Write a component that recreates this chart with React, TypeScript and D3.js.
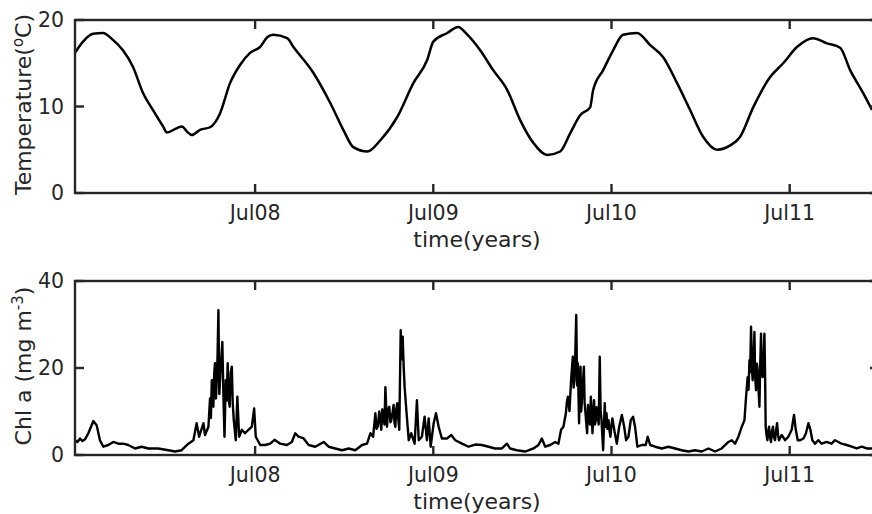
import React from "react";
import * as d3 from "d3";

// Sea temperature (°C), time in decimal years
const tempYears = [
  2007.488, 2007.533, 2007.589, 2007.645, 2007.701, 2007.757, 2007.813, 2007.869, 2007.925, 2007.982,
  2008.004, 2008.06, 2008.088, 2008.116, 2008.144, 2008.189, 2008.245, 2008.301, 2008.357, 2008.413,
  2008.469, 2008.526, 2008.565, 2008.599, 2008.677, 2008.711, 2008.823, 2008.918, 2008.991, 2009.047,
  2009.126, 2009.199, 2009.294, 2009.384, 2009.462, 2009.496, 2009.574, 2009.636, 2009.687, 2009.759,
  2009.832, 2009.911, 2009.984, 2010.057, 2010.135, 2010.208, 2010.264, 2010.32, 2010.376, 2010.393,
  2010.449, 2010.505, 2010.561, 2010.64, 2010.713, 2010.786, 2010.864, 2010.937, 2011.01, 2011.089,
  2011.162, 2011.218, 2011.291, 2011.386, 2011.459, 2011.538, 2011.627, 2011.705, 2011.779, 2011.835,
  2011.907, 2011.958,
];
const tempValues = [
  16.2, 17.5, 18.4, 18.5, 17.7, 16.5, 14.6, 11.6, 9.6, 7.7,
  7.0, 7.5, 7.7, 7.1, 6.7, 7.3, 7.6, 9.2, 12.7, 14.8,
  16.2, 16.9, 18.0, 18.3, 17.9, 16.9, 13.9, 10.4, 7.3, 5.3,
  4.8, 6.1, 8.8, 12.7, 15.4, 17.5, 18.5, 19.2, 18.3, 16.5,
  14.2, 11.9, 8.4, 5.8, 4.4, 4.8, 6.9, 9.0, 9.9, 11.9,
  14.2, 16.5, 18.3, 18.5, 17.1, 15.7, 12.7, 9.6, 6.5, 5.0,
  5.5, 6.5, 9.9, 13.4, 15.0, 16.9, 17.9, 17.3, 16.8, 14.2,
  11.6, 9.6,
];

// Chlorophyll a (mg m^-3), time in decimal years
const chlYears = [
  2007.488, 2007.502, 2007.516, 2007.53, 2007.544, 2007.563, 2007.591, 2007.61, 2007.628, 2007.647,
  2007.675, 2007.703, 2007.731, 2007.759, 2007.787, 2007.825, 2007.862, 2007.899, 2007.955, 2008.012,
  2008.049, 2008.086, 2008.124, 2008.152, 2008.17, 2008.184, 2008.208, 2008.217, 2008.236, 2008.245,
  2008.25, 2008.255, 2008.264, 2008.268, 2008.273, 2008.278, 2008.283, 2008.287, 2008.292, 2008.297,
  2008.303, 2008.308, 2008.314, 2008.32, 2008.326, 2008.333, 2008.338, 2008.344, 2008.349, 2008.355,
  2008.361, 2008.367, 2008.372, 2008.378, 2008.389, 2008.398, 2008.408, 2008.423, 2008.441, 2008.46,
  2008.479, 2008.492, 2008.501, 2008.526, 2008.554, 2008.582, 2008.606, 2008.638, 2008.675, 2008.703,
  2008.722, 2008.741, 2008.769, 2008.797, 2008.834, 2008.881, 2008.909, 2008.946, 2008.984, 2009.021,
  2009.058, 2009.096, 2009.124, 2009.143, 2009.158, 2009.171, 2009.177, 2009.184, 2009.193, 2009.204,
  2009.21, 2009.217, 2009.222, 2009.227, 2009.236, 2009.242, 2009.249, 2009.255, 2009.26, 2009.268,
  2009.273, 2009.278, 2009.283, 2009.288, 2009.294, 2009.3, 2009.305, 2009.313, 2009.318, 2009.324,
  2009.33, 2009.335, 2009.346, 2009.358, 2009.372, 2009.391, 2009.404, 2009.414, 2009.432, 2009.447,
  2009.46, 2009.47, 2009.481, 2009.498, 2009.511, 2009.526, 2009.544, 2009.572, 2009.597, 2009.619,
  2009.657, 2009.694, 2009.731, 2009.768, 2009.806, 2009.843, 2009.881, 2009.909, 2009.927, 2009.965,
  2010.011, 2010.058, 2010.086, 2010.105, 2010.124, 2010.152, 2010.18, 2010.198, 2010.213, 2010.226,
  2010.24, 2010.245, 2010.251, 2010.26, 2010.265, 2010.269, 2010.274, 2010.279, 2010.283, 2010.288,
  2010.293, 2010.298, 2010.303, 2010.307, 2010.314, 2010.318, 2010.322, 2010.326, 2010.331, 2010.336,
  2010.341, 2010.345, 2010.35, 2010.354, 2010.359, 2010.364, 2010.369, 2010.375, 2010.38, 2010.385,
  2010.389, 2010.394, 2010.398, 2010.403, 2010.408, 2010.412, 2010.417, 2010.424, 2010.43, 2010.435,
  2010.44, 2010.445, 2010.449, 2010.453, 2010.458, 2010.463, 2010.468, 2010.473, 2010.479, 2010.485,
  2010.49, 2010.496, 2010.501, 2010.513, 2010.526, 2010.539, 2010.554, 2010.567, 2010.578, 2010.591,
  2010.604, 2010.617, 2010.628, 2010.641, 2010.666, 2010.688, 2010.699, 2010.713, 2010.741, 2010.778,
  2010.815, 2010.853, 2010.89, 2010.928, 2010.965, 2011.002, 2011.04, 2011.077, 2011.114, 2011.152,
  2011.171, 2011.189, 2011.208, 2011.227, 2011.242, 2011.251, 2011.256, 2011.26, 2011.265, 2011.27,
  2011.274, 2011.279, 2011.284, 2011.288, 2011.293, 2011.298, 2011.302, 2011.307, 2011.312, 2011.316,
  2011.321, 2011.326, 2011.33, 2011.335, 2011.34, 2011.344, 2011.349, 2011.354, 2011.358, 2011.361,
  2011.366, 2011.371, 2011.376, 2011.38, 2011.386, 2011.391, 2011.397, 2011.402, 2011.408, 2011.414,
  2011.419, 2011.425, 2011.431, 2011.436, 2011.451, 2011.47, 2011.488, 2011.507, 2011.52, 2011.53,
  2011.541, 2011.554, 2011.573, 2011.587, 2011.601, 2011.612, 2011.623, 2011.638, 2011.657, 2011.675,
  2011.703, 2011.731, 2011.75, 2011.769, 2011.787, 2011.816, 2011.844, 2011.872, 2011.9, 2011.928,
  2011.965,
];
const chlValues = [
  3.4, 3.0, 3.8, 3.2, 3.6, 5.0, 7.8, 6.8, 3.4, 1.9,
  2.3, 3.0, 2.6, 2.6, 2.3, 1.5, 1.9, 1.5, 1.5, 1.1,
  0.8, 1.1, 2.6, 3.4, 7.3, 4.2, 7.3, 4.6, 6.5, 13.0,
  8.5, 17.2, 11.1, 18.5, 21.1, 13.0, 17.2, 22.5, 33.3, 14.0,
  18.7, 22.0, 26.0, 13.5, 4.2, 17.2, 12.5, 21.1, 13.0, 11.1,
  19.0, 20.3, 12.0, 8.0, 3.4, 13.4, 4.2, 5.8, 5.0, 5.8,
  6.5, 10.7, 4.2, 2.3, 2.3, 2.6, 3.5, 2.6, 2.3, 3.0,
  5.0, 4.2, 3.8, 2.3, 1.9, 3.0, 1.9, 1.5, 1.1, 1.5,
  1.1, 2.3, 2.6, 5.0, 4.2, 9.6, 6.0, 6.5, 10.0, 5.8,
  10.5, 8.0, 7.0, 15.6, 6.5, 10.5, 11.1, 7.5, 8.0, 10.0,
  11.5, 7.5, 6.5, 10.5, 11.9, 8.0, 5.8, 28.7, 22.0, 27.2,
  20.0, 15.6, 9.6, 3.4, 5.0, 2.6, 12.6, 3.4, 4.2, 8.8,
  3.4, 8.4, 1.9, 7.3, 9.6, 6.5, 3.8, 3.8, 4.6, 3.4,
  2.6, 1.9, 2.4, 2.3, 1.9, 1.5, 1.5, 2.6, 1.5, 1.1,
  0.8, 1.5, 2.3, 3.8, 1.9, 2.3, 3.0, 2.6, 5.8, 6.5,
  9.6, 12.0, 13.4, 10.1, 14.0, 17.2, 20.0, 22.6, 15.5, 17.2,
  24.0, 32.2, 16.0, 21.1, 7.3, 16.0, 20.3, 10.0, 13.4, 17.0,
  20.3, 12.0, 9.6, 7.5, 5.0, 11.5, 10.1, 7.0, 13.4, 9.5,
  5.0, 9.0, 12.6, 7.0, 8.0, 11.0, 10.1, 7.0, 22.6, 10.0,
  8.0, 4.0, 1.1, 6.0, 11.9, 6.5, 9.6, 6.0, 8.0, 5.5,
  4.2, 7.0, 8.4, 5.4, 2.6, 6.5, 9.2, 6.5, 3.4, 4.2,
  8.0, 8.8, 6.5, 1.9, 2.3, 2.3, 4.2, 2.3, 1.9, 1.5,
  1.9, 1.5, 1.1, 0.8, 1.1, 0.8, 1.5, 0.8, 1.5, 3.0,
  3.4, 2.6, 4.2, 6.5, 8.0, 13.4, 16.0, 17.9, 15.0, 21.8,
  19.0, 29.5, 20.0, 17.2, 22.0, 28.3, 18.0, 14.9, 21.0, 19.5,
  15.0, 11.1, 20.0, 27.9, 19.0, 17.9, 21.0, 27.9, 18.0, 6.5,
  4.5, 3.4, 5.5, 6.5, 4.0, 3.0, 5.5, 6.5, 4.0, 3.4,
  5.5, 7.3, 4.5, 3.4, 4.6, 3.4, 4.2, 5.8, 9.2, 5.8,
  3.4, 3.4, 3.8, 5.0, 7.3, 5.8, 3.4, 2.6, 3.4, 2.6,
  3.0, 2.6, 3.4, 3.0, 2.6, 2.3, 1.9, 1.5, 1.9, 1.5,
  1.5,
];

const timeDomain = [2007.488, 2011.997];
const xTickDates = ["2008-07-01", "2009-07-01", "2010-07-01", "2011-07-01"];
const tempTicks = [0, 10, 20];
const chlTicks = [0, 20, 40];

function fromDecimalYear(y: number): Date {
  const yr = Math.floor(y);
  const start = Date.UTC(yr, 0, 1);
  const end = Date.UTC(yr + 1, 0, 1);
  return new Date(start + (y - yr) * (end - start));
}

const W = 872;
const H = 514;
const LEFT = 75;
const RIGHT = 879;
const AXIS_COLOR = "#262626";
const FONT = "'DejaVu Sans', sans-serif";
const TICK_LEN = 9;

const x = d3
  .scaleUtc()
  .domain(timeDomain.map(fromDecimalYear))
  .range([LEFT, RIGHT]);
const fmt = d3.utcFormat("%b%y");

type PanelProps = {
  id: string;
  top: number;
  bottom: number;
  ticks: number[];
  years: number[];
  values: number[];
  curve: d3.CurveFactory;
  lineWidth: number;
  ylabel: React.ReactNode;
};

function Panel({ id, top, bottom, ticks, years, values, curve, lineWidth, ylabel }: PanelProps) {
  const y = d3
    .scaleLinear()
    .domain([ticks[0], ticks[ticks.length - 1]])
    .range([bottom, top]);
  const pts: [Date, number][] = years.map((t, i) => [fromDecimalYear(t), values[i]]);
  const path = d3
    .line<[Date, number]>()
    .x((d) => x(d[0]))
    .y((d) => y(d[1]))
    .curve(curve)(pts);
  const xt = xTickDates.map((s) => new Date(s + "T00:00:00Z"));
  const midY = (top + bottom) / 2;
  return (
    <g>
      <defs>
        <clipPath id={id}>
          <rect x={LEFT} y={top} width={RIGHT - LEFT} height={bottom - top} />
        </clipPath>
      </defs>
      <path
        d={path ?? ""}
        fill="none"
        stroke="#000"
        strokeWidth={lineWidth}
        strokeLinejoin="round"
        clipPath={`url(#${id})`}
      />
      <rect
        x={LEFT}
        y={top}
        width={RIGHT - LEFT}
        height={bottom - top}
        fill="none"
        stroke={AXIS_COLOR}
        strokeWidth={2.4}
      />
      {xt.map((d) => (
        <g key={d.toISOString()}>
          <line x1={x(d)} x2={x(d)} y1={bottom} y2={bottom - TICK_LEN} stroke={AXIS_COLOR} strokeWidth={2.4} />
          <line x1={x(d)} x2={x(d)} y1={top} y2={top + TICK_LEN} stroke={AXIS_COLOR} strokeWidth={2.4} />
          <text
            x={x(d)}
            y={bottom + 27}
            textAnchor="middle"
            fontFamily={FONT}
            fontSize={20.5}
            fill={AXIS_COLOR}
          >
            {fmt(d)}
          </text>
        </g>
      ))}
      {ticks.map((t) => (
        <g key={t}>
          <line x1={LEFT} x2={LEFT + TICK_LEN} y1={y(t)} y2={y(t)} stroke={AXIS_COLOR} strokeWidth={2.4} />
          <line x1={RIGHT} x2={RIGHT - TICK_LEN} y1={y(t)} y2={y(t)} stroke={AXIS_COLOR} strokeWidth={2.4} />
          <text
            x={LEFT - 11}
            y={y(t)}
            dy="0.36em"
            textAnchor="end"
            fontFamily={FONT}
            fontSize={20.5}
            fill={AXIS_COLOR}
          >
            {t}
          </text>
        </g>
      ))}
      <text
        x={(LEFT + RIGHT) / 2}
        y={bottom + 54}
        textAnchor="middle"
        fontFamily={FONT}
        fontSize={22}
        fill={AXIS_COLOR}
      >
        time(years)
      </text>
      <text
        transform={`translate(31,${midY - 2}) rotate(-90)`}
        textAnchor="middle"
        fontFamily={FONT}
        fontSize={22}
        fill={AXIS_COLOR}
      >
        {ylabel}
      </text>
    </g>
  );
}

export default function App() {
  return (
    <>
      <style>{`body{margin:0;overflow:hidden;}`}</style>
      <svg width={W} height={H} style={{ display: "block", background: "#fff" }}>
        <Panel
          id="clip-temp"
          top={20}
          bottom={193}
          ticks={tempTicks}
          years={tempYears}
          values={tempValues}
          curve={d3.curveMonotoneX}
          lineWidth={2.5}
          ylabel={
            <>
              Temperature(
              <tspan dy={-8} fontSize={15}>o</tspan>
              <tspan dy={8}>C)</tspan>
            </>
          }
        />
        <Panel
          id="clip-chl"
          top={281}
          bottom={455}
          ticks={chlTicks}
          years={chlYears}
          values={chlValues}
          curve={d3.curveLinear}
          lineWidth={2.4}
          ylabel={
            <>
              Chl a (mg m
              <tspan dy={-8} fontSize={15}>-3</tspan>
              <tspan dy={8}>)</tspan>
            </>
          }
        />
      </svg>
    </>
  );
}
